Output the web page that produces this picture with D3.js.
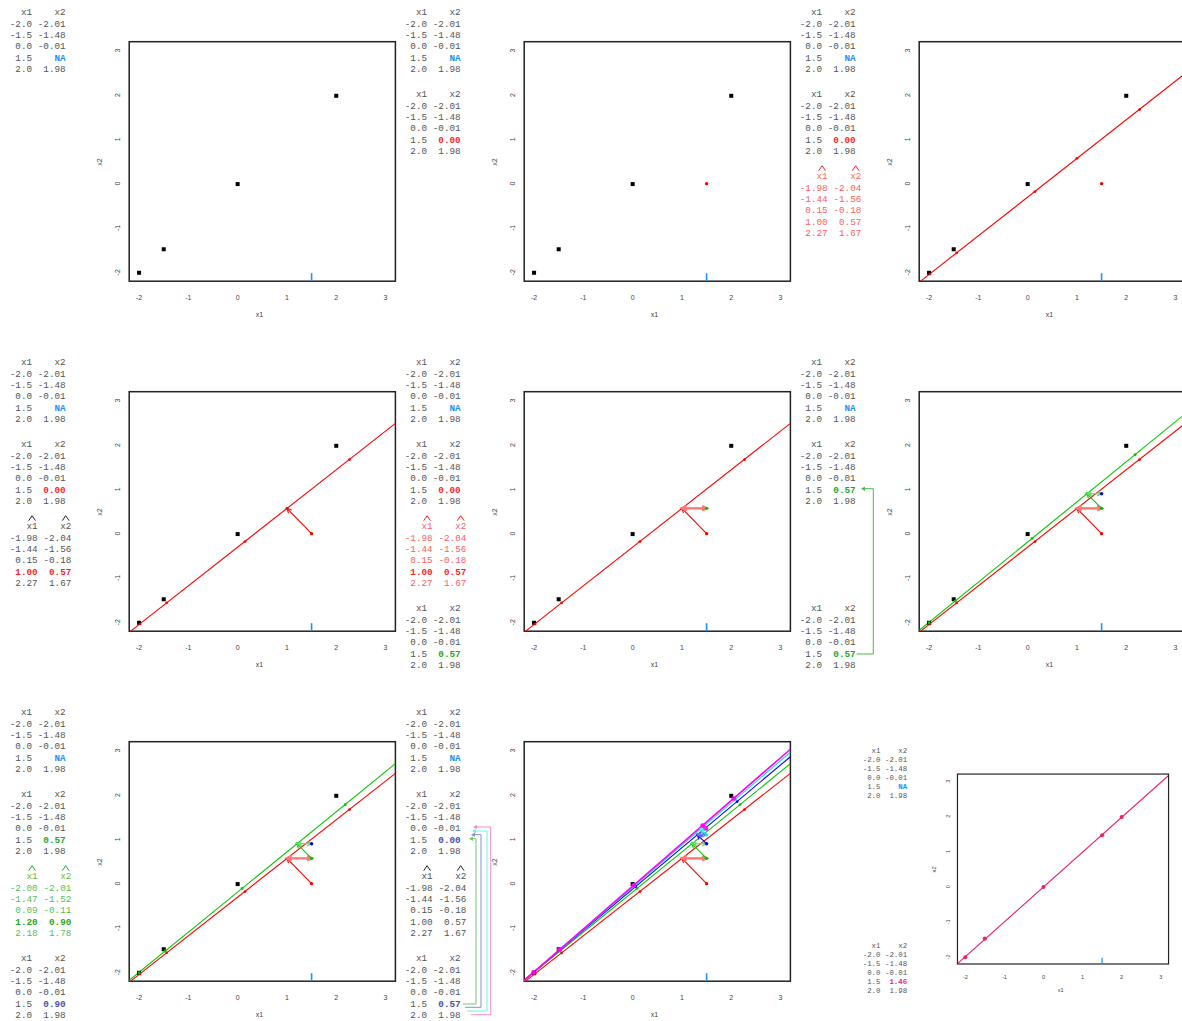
<!DOCTYPE html>
<html>
<head>
<meta charset="utf-8">
<script src="https://cdn.jsdelivr.net/npm/d3@7"></script>
<style>
  html, body { margin: 0; padding: 0; background: #fff; }
  svg { display: block; }
</style>
</head>
<body>
<svg id="chart" width="1182" height="1021"></svg>
<script>
// Five observations, the fourth x2 value is missing
const x1Values = [-2.0, -1.5, 0.0, 1.5, 2.0];
const x2Observed = [-2.01, -1.48, -0.01, null, 1.98];
const missingRow = 3;
const columnNames = ["x1", "x2"];
const axisTicks = [-2, -1, 0, 1, 2, 3];

// value placed in the missing cell at the start of each pass, and the converged value
const imputedStart = [0.00, 0.57, 0.90, 1.10, 1.23];
const imputedFinal = 1.46;

// principal-axis line fitted on each pass
const fitSlope = [0.872, 0.905, 0.933, 0.952, 0.965];
const fitIntercept = [-0.304, -0.190, -0.124, -0.084, -0.058];
const finalSlope = 0.991;
const finalIntercept = -0.012;

// orthogonal projections of the five rows onto each pass's line
const hatX1 = [
  [-1.98, -1.44, 0.15, 1.00, 2.27],
  [-2.00, -1.47, 0.09, 1.20, 2.18],
  [-2.01, -1.48, 0.06, 1.31, 2.12],
  [-2.01, -1.48, 0.04, 1.38, 2.08],
  [-2.01, -1.49, 0.02, 1.42, 2.05]
];
const hatX2 = [
  [-2.04, -1.56, -0.18, 0.57, 1.67],
  [-2.01, -1.52, -0.11, 0.90, 1.78],
  [-2.00, -1.50, -0.07, 1.10, 1.85],
  [-2.00, -1.50, -0.05, 1.23, 1.90],
  [-2.00, -1.49, -0.04, 1.31, 1.92]
];

// ---- styling ----
const passColor = ["#ff0000", "#00c800", "#0000ff", "#00e5ee", "#ff00ff"];
const passLight = ["#ff7878", "#66dd66", "#7070ff", "#70f0f0", "#ff80ff"];
const GRAY = "#444";
const TEXT_GRAY = "#555";
const NA_BLUE = "#1e90ff";
const RED_BOLD = "#ff1f1f", RED_LIGHT = "#ff6060";
const GREEN_BOLD = "#22aa22", GREEN_LIGHT = "#55bf55";
const SLATE = "#4d4daf";
const PINK = "#f0206e";

const locale = d3.formatLocale({ decimal: ".", thousands: ",", grouping: [3], currency: ["", ""], minus: "-" });
const f1 = locale.format(".1f"), f2 = locale.format(".2f"), fTick = locale.format("d");

const COL_W = 395, ROW_H = 350;
const SLOT_Y = [12, 94, 176, 258];
const ROW_STEP = 11.4;
const DATA_RIGHT = [32.1, 65.7];
const HAT_RIGHT = [37.7, 71.3];
const MONO = "'Liberation Mono', 'DejaVu Sans Mono', monospace";
const SANS = "'Liberation Sans', Arial, sans-serif";

const x = d3.scaleLinear().domain([-2.2, 3.2]).range([129.2, 395.4]);
const y = d3.scaleLinear().domain([-2.2, 3.2]).range([281.2, 41.7]);

const svg = d3.select("#chart");
const defs = svg.append("defs");
let clipCount = 0;

const filled = v => x2Observed.map((d, i) => i === missingRow ? v : d);

function cell(g, tx, ty, str, fill, bold) {
  g.append("text")
    .attr("x", tx).attr("y", ty).attr("dy", "0.35em")
    .attr("text-anchor", "end")
    .attr("font-family", MONO).attr("font-size", 9.3)
    .attr("font-weight", bold ? "bold" : "normal")
    .attr("fill", fill)
    .text(str);
}

// printed data frame with the missing cell styled separately
function dataTable(g, slot, x2col, missFill) {
  const y0 = SLOT_Y[slot];
  columnNames.forEach((n, j) => cell(g, DATA_RIGHT[j], y0, n, TEXT_GRAY, false));
  x1Values.forEach((v, i) => {
    const ty = y0 + (i + 1) * ROW_STEP;
    cell(g, DATA_RIGHT[0], ty, f1(v), TEXT_GRAY, false);
    const val = x2col[i];
    const miss = i === missingRow;
    cell(g, DATA_RIGHT[1], ty, val == null ? "NA" : f2(val), miss ? missFill : TEXT_GRAY, miss);
  });
}

// printed projections with hats over the column names
function hatTable(g, slot, p, hatFill, rowFill, highlightFill) {
  const y0 = SLOT_Y[slot];
  columnNames.forEach((n, j) => {
    const cx = HAT_RIGHT[j] - 5.6;
    g.append("path")
      .attr("d", `M${cx - 3.4},${y0 - 5.3}L${cx},${y0 - 10.3}L${cx + 3.4},${y0 - 5.3}`)
      .attr("fill", "none").attr("stroke", hatFill).attr("stroke-width", 1);
    cell(g, HAT_RIGHT[j], y0, n, rowFill, false);
  });
  hatX1[p].forEach((v, i) => {
    const ty = y0 + (i + 1) * ROW_STEP;
    const hi = highlightFill && i === missingRow;
    const fill = hi ? highlightFill : rowFill;
    cell(g, HAT_RIGHT[0], ty, f2(v), fill, hi);
    cell(g, HAT_RIGHT[1], ty, f2(hatX2[p][i]), fill, hi);
  });
}

// elbow connector ending in a small filled arrowhead pointing left
function connector(g, xStart, yBottom, xVert, yTop, xTip, color) {
  g.append("path")
    .attr("d", `M${xStart},${yBottom}H${xVert}V${yTop}H${xTip + 3.5}`)
    .attr("fill", "none").attr("stroke", color).attr("stroke-width", 1);
  g.append("path")
    .attr("d", `M${xTip},${yTop}L${xTip + 4},${yTop - 2.2}L${xTip + 4},${yTop + 2.2}Z`)
    .attr("fill", color);
}

function frame(g) {
  const [x0, x1r] = x.range(), [yb, yt] = y.range();
  g.append("rect")
    .attr("x", x0).attr("y", yt).attr("width", x1r - x0).attr("height", yb - yt)
    .attr("fill", "none").attr("stroke", "#222").attr("stroke-width", 1.5);
  const tickStyle = s => s.attr("font-family", SANS).attr("font-size", 7).attr("fill", GRAY)
    .attr("text-anchor", "middle").attr("dominant-baseline", "central");
  g.selectAll(null).data(axisTicks).join("text")
    .attr("x", d => x(d)).attr("y", 297).text(fTick).call(tickStyle);
  g.selectAll(null).data(axisTicks).join("text")
    .attr("transform", d => `translate(117,${y(d)}) rotate(-90)`).text(fTick).call(tickStyle);
  g.append("text").attr("x", 259.5).attr("y", 314).text(columnNames[0]).call(tickStyle);
  g.append("text").attr("transform", "translate(99,162) rotate(-90)").text(columnNames[1]).call(tickStyle);
  // rug mark at the x1 value of the incomplete row
  g.append("line")
    .attr("x1", x(x1Values[missingRow])).attr("x2", x(x1Values[missingRow]))
    .attr("y1", yb).attr("y2", yb - 8)
    .attr("stroke", NA_BLUE).attr("stroke-width", 1.6);
}

function plotArea(g) {
  const id = "clip" + (clipCount++);
  const [x0, x1r] = x.range(), [yb, yt] = y.range();
  defs.append("clipPath").attr("id", id).append("rect")
    .attr("x", x0).attr("y", yt).attr("width", x1r - x0).attr("height", yb - yt);
  return g.append("g").attr("clip-path", `url(#${id})`);
}

function fitLine(area, slope, intercept, color, width) {
  const [a, b] = x.domain();
  area.append("line")
    .attr("x1", x(a)).attr("y1", y(intercept + slope * a))
    .attr("x2", x(b)).attr("y2", y(intercept + slope * b))
    .attr("stroke", color).attr("stroke-width", width);
}

function dot(g, cx, cy, r, color) {
  g.append("circle").attr("cx", x(cx)).attr("cy", y(cy)).attr("r", r).attr("fill", color);
}

function squares(g) {
  x1Values.forEach((v, i) => {
    if (x2Observed[i] == null) return;
    g.append("rect")
      .attr("x", x(v) - 2).attr("y", y(x2Observed[i]) - 2)
      .attr("width", 4).attr("height", 4).attr("fill", "#000");
  });
}

function head(g, from, to, color, width) {
  const [fx, fy] = [x(from[0]), y(from[1])], [tx, ty] = [x(to[0]), y(to[1])];
  const ang = Math.atan2(ty - fy, tx - fx), len = 5, spread = Math.PI / 7;
  const p1 = [tx - len * Math.cos(ang - spread), ty - len * Math.sin(ang - spread)];
  const p2 = [tx - len * Math.cos(ang + spread), ty - len * Math.sin(ang + spread)];
  g.append("path").attr("d", `M${p1}L${tx},${ty}L${p2}`)
    .attr("fill", "none").attr("stroke", color).attr("stroke-width", width);
}

function arrow(g, from, to, color, width, both) {
  g.append("line")
    .attr("x1", x(from[0])).attr("y1", y(from[1]))
    .attr("x2", x(to[0])).attr("y2", y(to[1]))
    .attr("stroke", color).attr("stroke-width", width);
  head(g, from, to, color, width);
  if (both) head(g, to, from, color, width);
}

// one imputation pass: line, projected points, and the moves of the missing cell
function pass(g, area, p, steps) {
  const big = p === 4;
  if (steps.line) {
    fitLine(area, fitSlope[p], fitIntercept[p], passColor[p], big ? 1.6 : 1.1);
  }
  if (steps.fitted) {
    hatX1[p].forEach((v, i) => dot(g, v, hatX2[p][i], big ? 2.3 : 1.4, passColor[p]));
  }
  const start = [x1Values[missingRow], imputedStart[p]];
  const proj = [hatX1[p][missingRow], hatX2[p][missingRow]];
  if (steps.project) arrow(g, start, proj, passColor[p], 1.1, false);
  if (steps.shift) {
    arrow(g, proj, [x1Values[missingRow], proj[1]], passLight[p], p === 0 ? 2.4 : 1.3, true);
  }
  if (steps.start) dot(g, start[0], start[1], 1.7, passColor[p]);
}

function panel(col, row) {
  return svg.append("g").attr("transform", `translate(${col * COL_W},${row * ROW_H})`);
}

const ALL = { line: true, fitted: true, project: true, shift: true, start: true };

// Panel 1: the incomplete data
{
  const g = panel(0, 0);
  dataTable(g, 0, x2Observed, NA_BLUE);
  frame(g);
  squares(g);
}
// Panel 2: missing cell filled with a starting value
{
  const g = panel(1, 0);
  dataTable(g, 0, x2Observed, NA_BLUE);
  dataTable(g, 1, filled(imputedStart[0]), RED_BOLD);
  frame(g);
  squares(g);
  pass(g, plotArea(g), 0, { start: true });
}
// Panel 3: principal-axis fit and projections
{
  const g = panel(2, 0);
  dataTable(g, 0, x2Observed, NA_BLUE);
  dataTable(g, 1, filled(imputedStart[0]), RED_BOLD);
  hatTable(g, 2, 0, RED_BOLD, RED_LIGHT, null);
  frame(g);
  const area = plotArea(g);
  squares(g);
  pass(g, area, 0, { line: true, fitted: true, start: true });
}
// Panel 4: projection of the imputed row
{
  const g = panel(0, 1);
  dataTable(g, 0, x2Observed, NA_BLUE);
  dataTable(g, 1, filled(imputedStart[0]), RED_BOLD);
  hatTable(g, 2, 0, "#222", TEXT_GRAY, RED_BOLD);
  frame(g);
  const area = plotArea(g);
  squares(g);
  pass(g, area, 0, { line: true, fitted: true, project: true, start: true });
}
// Panel 5: projected x2 becomes the new fill value
{
  const g = panel(1, 1);
  dataTable(g, 0, x2Observed, NA_BLUE);
  dataTable(g, 1, filled(imputedStart[0]), RED_BOLD);
  hatTable(g, 2, 0, RED_BOLD, RED_LIGHT, RED_BOLD);
  dataTable(g, 3, filled(imputedStart[1]), GREEN_BOLD);
  frame(g);
  const area = plotArea(g);
  squares(g);
  pass(g, area, 0, ALL);
  pass(g, area, 1, { start: true });
}
// Panel 6: second pass starts from the updated table
{
  const g = panel(2, 1);
  dataTable(g, 0, x2Observed, NA_BLUE);
  dataTable(g, 1, filled(imputedStart[1]), GREEN_BOLD);
  dataTable(g, 3, filled(imputedStart[1]), GREEN_BOLD);
  connector(g, 66.7, 304, 83.3, 138.7, 71, "#4cbb4c");
  frame(g);
  const area = plotArea(g);
  squares(g);
  pass(g, area, 0, ALL);
  pass(g, area, 1, ALL);
  pass(g, area, 2, { start: true });
}
// Panel 7: second-pass projections
{
  const g = panel(0, 2);
  dataTable(g, 0, x2Observed, NA_BLUE);
  dataTable(g, 1, filled(imputedStart[1]), GREEN_BOLD);
  hatTable(g, 2, 1, GREEN_BOLD, GREEN_LIGHT, GREEN_BOLD);
  dataTable(g, 3, filled(imputedStart[2]), SLATE);
  frame(g);
  const area = plotArea(g);
  squares(g);
  pass(g, area, 0, ALL);
  pass(g, area, 1, ALL);
  pass(g, area, 2, { start: true });
}
// Panel 8: repeated passes
{
  const g = panel(1, 2);
  dataTable(g, 0, x2Observed, NA_BLUE);
  dataTable(g, 1, filled(imputedStart[0]), SLATE);
  hatTable(g, 2, 0, "#222", TEXT_GRAY, null);
  dataTable(g, 3, filled(imputedStart[1]), SLATE);
  connector(g, 68, 304, 81, 138.7, 74, "#70c870");
  connector(g, 70, 307.3, 86, 134.7, 76, "#8c8cd0");
  connector(g, 72, 311, 92, 131, 77, "#6ef0f0");
  connector(g, 76, 314.7, 95.7, 127, 78, "#ff8ccc");
  frame(g);
  const area = plotArea(g);
  squares(g);
  [0, 1, 2, 3].forEach(p => pass(g, area, p, ALL));
  pass(g, area, 4, { line: true, fitted: true, project: true, start: true });
}
// Panel 9: converged fill value
{
  const g = svg.append("g").attr("transform", "translate(855,741) scale(0.793)");
  dataTable(g, 0, x2Observed, NA_BLUE);
  const done = filled(imputedFinal);
  dataTable(g, 3, done, PINK);
  frame(g);
  const area = plotArea(g);
  fitLine(area, finalSlope, finalIntercept, PINK, 1.3);
  x1Values.forEach((v, i) => dot(g, v, done[i], 2.6, PINK));
}
</script>
</body>
</html>
